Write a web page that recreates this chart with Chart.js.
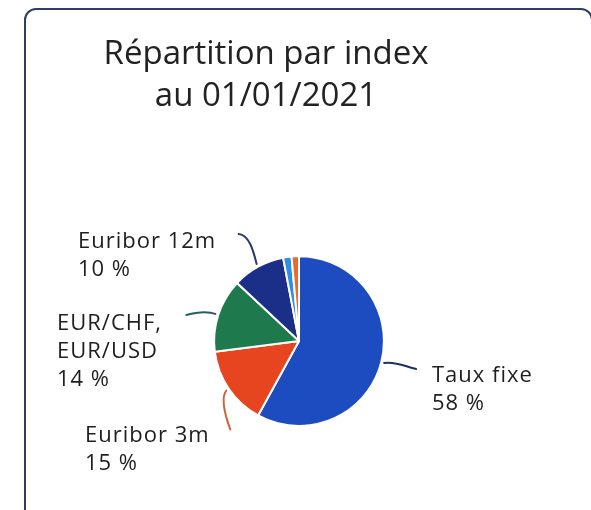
<!DOCTYPE html>
<html>
<head>
<meta charset="utf-8">
<script src="https://cdn.jsdelivr.net/npm/chart.js@4/dist/chart.umd.min.js"></script>
<style>
  html, body { margin: 0; padding: 0; background: #ffffff; }
  #wrap { width: 591px; height: 510px; position: relative; }
</style>
</head>
<body>
<div id="wrap"><canvas id="c" width="591" height="510"></canvas></div>
<script>
// ---- data ----
const titleLines = ['Répartition par index', 'au 01/01/2021'];
const categories = ['Taux fixe', 'Euribor 3m', 'EUR/CHF, EUR/USD', 'Euribor 12m', '', ''];
const labelNameLines = [['Taux fixe'], ['Euribor 3m'], ['EUR/CHF,', 'EUR/USD'], ['Euribor 12m'], [], []];
const values = [58, 15, 14, 10, 1.6, 1.4];
const valueLabels = ['58 %', '15 %', '14 %', '10 %', '', ''];

// ---- styling ----
const sliceColors = ['#1c4cc0', '#e6451f', '#1e7a4c', '#1b2f88', '#2e8fe4', '#e86c2e'];
const leaderColors = ['#1c3068', '#c8663e', '#2c5a6c', '#2a3a6e', null, null];
const FONT = '"Open Sans", "Noto Sans", sans-serif';

// label placement relative to pie centre (first baseline, left edge) and leader curves relative to edge point
const labelLayout = [
  { dx: 133, dy: 41 },
  { dx: -214, dy: 101 },
  { dx: -242, dy: -11 },
  { dx: -221, dy: -93 },
  null, null
];
const leaderLayout = [
  { c1: [12, -2], c2: [22, 4], e: [32, 6] },
  { c1: [-6, 8], c2: [0, 28], e: [4, 39] },
  { c1: [-8, -3], c2: [-18, -2], e: [-29, 1] },
  { c1: [-3, -12], c2: [-7, -29], e: [-18, -30] },
  null, null
];

const framePlugin = {
  id: 'frame',
  beforeDraw(chart) {
    const ctx = chart.ctx;
    ctx.save();
    ctx.fillStyle = '#ffffff';
    ctx.fillRect(0, 0, chart.width, chart.height);
    const x = 25, y = 9, w = 567, h = 530, r = 11;
    ctx.beginPath();
    ctx.moveTo(x + r, y);
    ctx.lineTo(x + w - r, y);
    ctx.arcTo(x + w, y, x + w, y + r, r);
    ctx.lineTo(x + w, y + h);
    ctx.lineTo(x, y + h);
    ctx.lineTo(x, y + r);
    ctx.arcTo(x, y, x + r, y, r);
    ctx.closePath();
    ctx.lineWidth = 2;
    ctx.strokeStyle = '#2e3f62';
    ctx.stroke();
    ctx.restore();
  }
};

const outLabelPlugin = {
  id: 'outLabels',
  afterDatasetsDraw(chart) {
    const ctx = chart.ctx;
    const meta = chart.getDatasetMeta(0);
    ctx.save();
    meta.data.forEach((arc, i) => {
      const lay = labelLayout[i];
      if (!lay) return;
      const p = arc.getProps(['x', 'y', 'startAngle', 'endAngle', 'outerRadius'], true);
      const mid = (p.startAngle + p.endAngle) / 2;
      const rr = p.outerRadius + 3;
      const sx = p.x + Math.cos(mid) * rr;
      const sy = p.y + Math.sin(mid) * rr;
      const L = leaderLayout[i];
      ctx.beginPath();
      ctx.moveTo(sx, sy);
      ctx.bezierCurveTo(sx + L.c1[0], sy + L.c1[1], sx + L.c2[0], sy + L.c2[1], sx + L.e[0], sy + L.e[1]);
      ctx.lineWidth = 2;
      ctx.lineCap = 'round';
      ctx.strokeStyle = leaderColors[i];
      ctx.stroke();

      const lines = labelNameLines[i].concat([valueLabels[i]]);
      ctx.fillStyle = '#1e1e1e';
      ctx.font = '22px ' + FONT;
      if ('letterSpacing' in ctx) ctx.letterSpacing = '1px';
      ctx.textAlign = 'left';
      ctx.textBaseline = 'alphabetic';
      lines.forEach((t, k) => {
        ctx.fillText(t, p.x + lay.dx, p.y + lay.dy + k * 28);
      });
    });
    ctx.restore();
  }
};

new Chart(document.getElementById('c'), {
  type: 'pie',
  data: {
    labels: categories,
    datasets: [{
      data: values,
      backgroundColor: sliceColors,
      borderColor: '#ffffff',
      borderWidth: 2
    }]
  },
  options: {
    responsive: false,
    animation: false,
    layout: { padding: { top: 34, right: 59, bottom: 83, left: 0 } },
    plugins: {
      title: {
        display: true,
        text: titleLines,
        color: '#222222',
        font: { family: FONT, size: 33, weight: 'normal', lineHeight: 1.26 },
        padding: { top: 0, bottom: 138 }
      },
      legend: {
        display: true,
        position: 'left',
        labels: { filter: () => false, padding: 56 }
      },
      tooltip: { enabled: false }
    }
  },
  plugins: [framePlugin, outLabelPlugin]
});
</script>
</body>
</html>
